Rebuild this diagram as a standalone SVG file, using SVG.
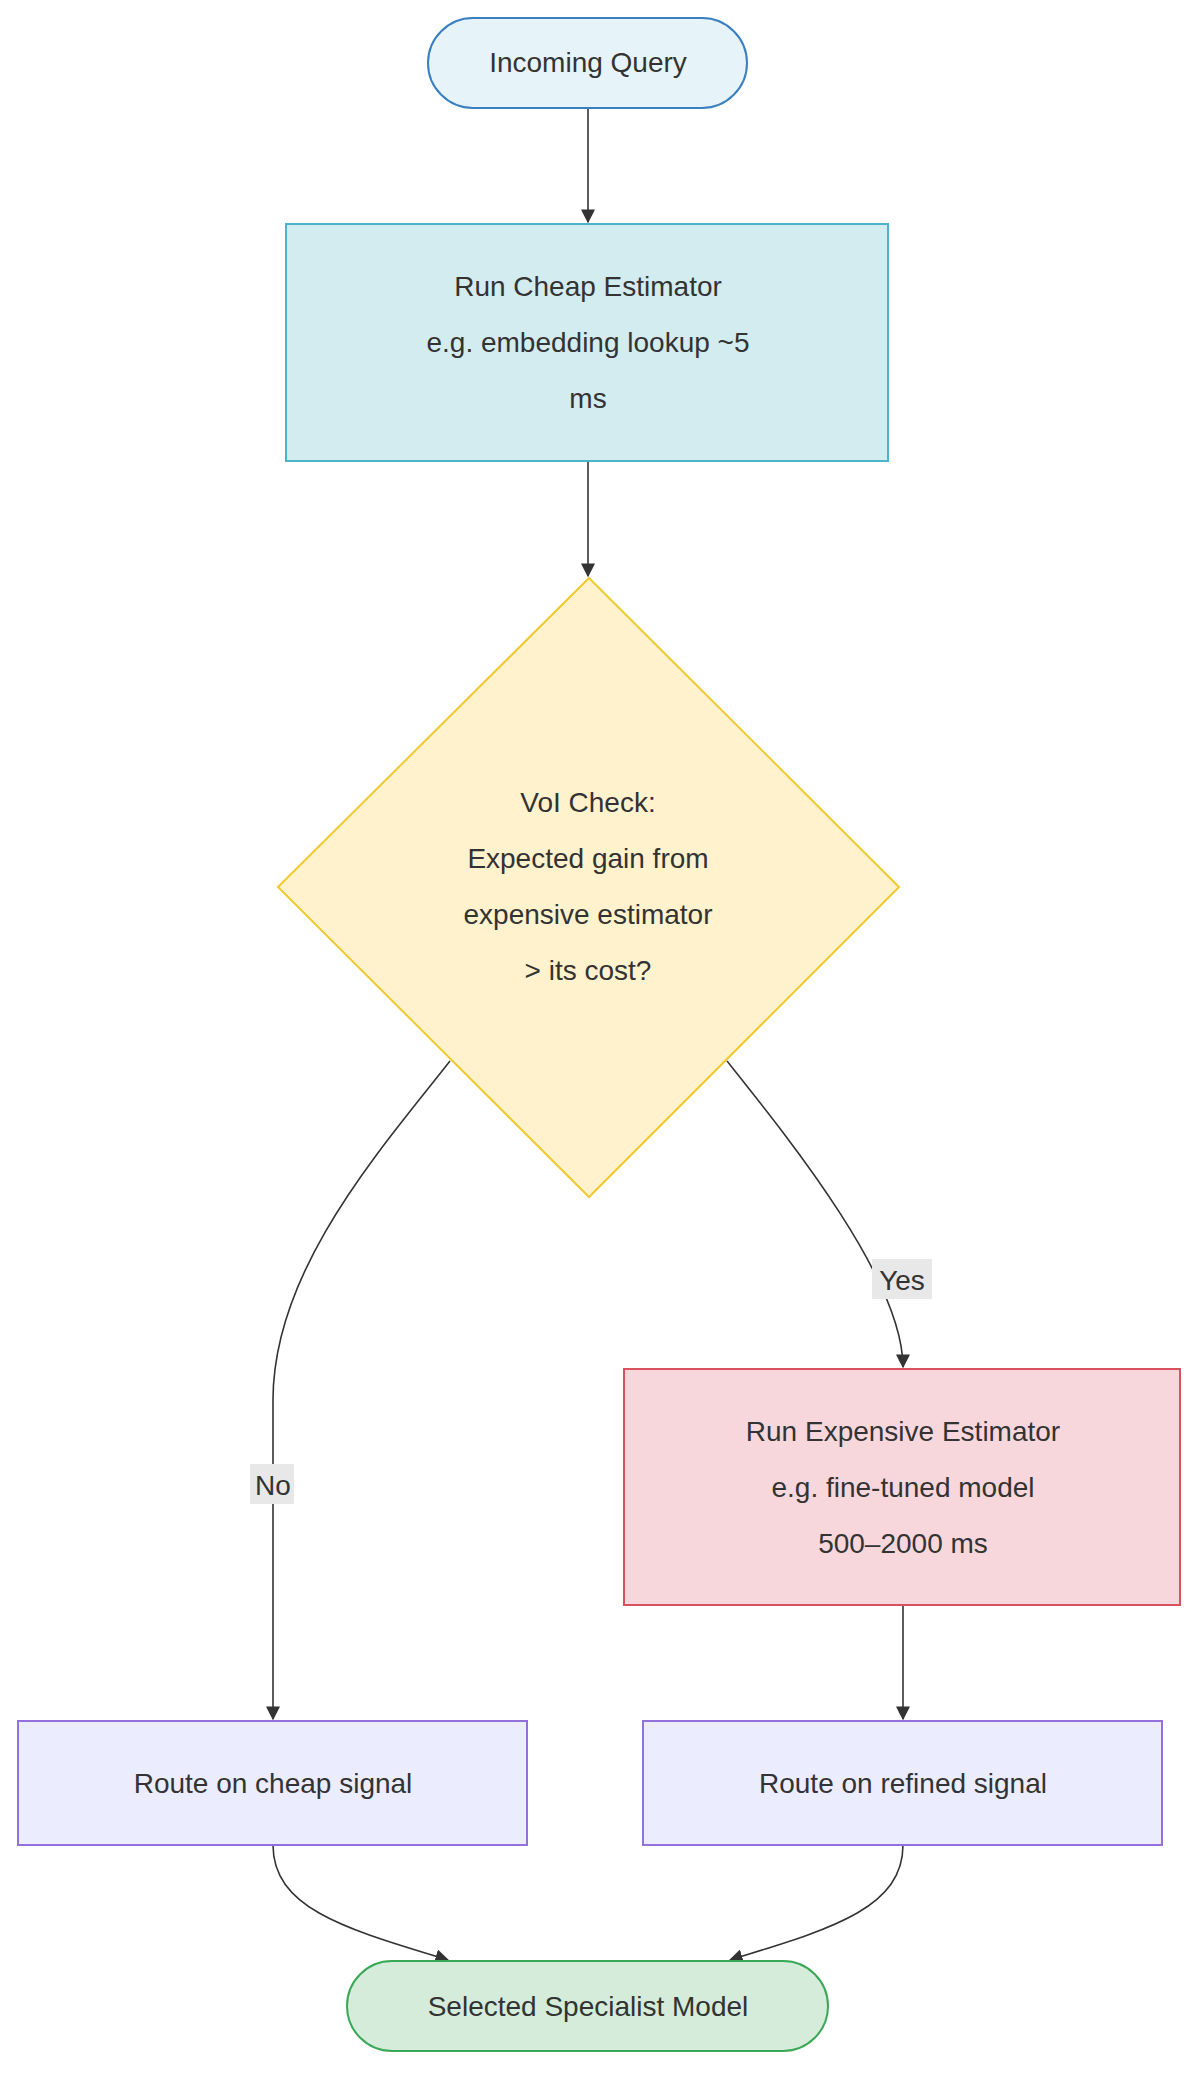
<svg xmlns="http://www.w3.org/2000/svg" width="1200" height="2075" viewBox="0 0 1200 2075">
<style>
text{font-family:"Liberation Sans",Arial,sans-serif;font-size:28px;fill:#333;text-anchor:middle}
.e{fill:none;stroke:#333;stroke-width:1.6}
</style>
<defs><marker id="a" viewBox="0 0 10 10" refX="9" refY="5" markerWidth="8" markerHeight="8" markerUnits="userSpaceOnUse" orient="auto"><path d="M0,0L10,5L0,10z" fill="#333"/></marker>
<marker id="b" viewBox="0 0 10 10" refX="9" refY="5" markerWidth="14" markerHeight="14" markerUnits="userSpaceOnUse" orient="auto"><path d="M0,0L10,5L0,10z" fill="#333"/></marker></defs>
<rect width="1200" height="2075" fill="#fff"/>
<g id="edges">
<path class="e" d="M588,108V222" marker-end="url(#b)"/>
<path class="e" d="M588,461V576" marker-end="url(#b)"/>
<path class="e" d="M450,1061C380,1150 273,1270 273,1400V1719" marker-end="url(#b)"/>
<path class="e" d="M727,1061C790,1140 903,1280 903,1367" marker-end="url(#b)"/>
<path class="e" d="M903,1605V1719" marker-end="url(#b)"/>
<path class="e" d="M273,1845C273,1910 350,1930 448,1960" marker-end="url(#b)"/>
<path class="e" d="M903,1845C903,1910 826,1930 730,1960" marker-end="url(#b)"/>
<rect x="250" y="1464" width="44" height="40" fill="#e8e8e8"/><text x="273" y="1495">No</text>
<rect x="872" y="1259" width="60" height="40" fill="#e8e8e8"/><text x="902" y="1290">Yes</text>
</g>
<g id="query"><rect x="428" y="18" width="319" height="90" rx="45" fill="#e6f3f9" stroke="#3a7fc0" stroke-width="2"/><text x="588" y="72">Incoming Query</text></g>
<g id="cheap"><rect x="286" y="224" width="602" height="237" fill="#d3ecf0" stroke="#4ab4c8" stroke-width="2"/><text x="588" y="296">Run Cheap Estimator</text><text x="588" y="352">e.g. embedding lookup ~5</text><text x="588" y="408">ms</text></g>
<g id="voi"><path d="M589,578L899,887L589,1197L278,887z" fill="#fff2cc" stroke="#f0c930" stroke-width="2"/><text x="588" y="812">VoI Check:</text><text x="588" y="868">Expected gain from</text><text x="588" y="924">expensive estimator</text><text x="588" y="980">&gt; its cost?</text></g>
<g id="expensive"><rect x="624" y="1369" width="556" height="236" fill="#f8d7dc" stroke="#d9505e" stroke-width="2"/><text x="903" y="1441">Run Expensive Estimator</text><text x="903" y="1497">e.g. fine-tuned model</text><text x="903" y="1553">500–2000 ms</text></g>
<g id="routeCheap"><rect x="18" y="1721" width="509" height="124" fill="#ececff" stroke="#9370db" stroke-width="2"/><text x="273" y="1793">Route on cheap signal</text></g>
<g id="routeRefined"><rect x="643" y="1721" width="519" height="124" fill="#ececff" stroke="#9370db" stroke-width="2"/><text x="903" y="1793">Route on refined signal</text></g>
<g id="selected"><rect x="347" y="1961" width="481" height="90" rx="45" fill="#d4ecd9" stroke="#3aa857" stroke-width="2"/><text x="588" y="2016">Selected Specialist Model</text></g>
</svg>
